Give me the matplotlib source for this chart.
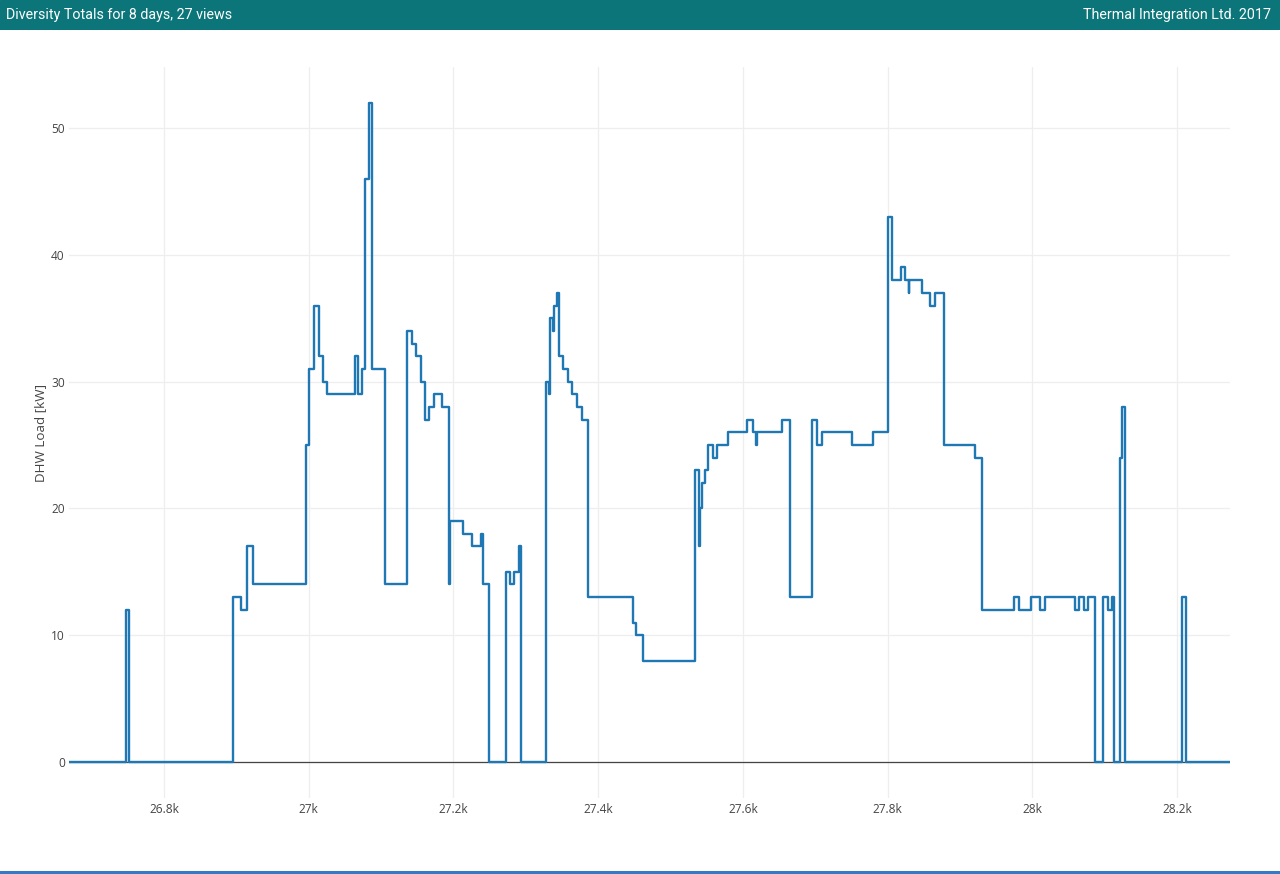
import matplotlib
matplotlib.use("Agg")
import matplotlib.pyplot as plt
from matplotlib.ticker import FuncFormatter, FixedLocator

# ---- data (step breakpoints: x where a new level starts, and that level) ----
step_x = [
    26668.6, 26748, 26752, 26895, 26907, 26914.5, 26923, 26995.5, 27001, 27007.5,
    27013.5, 27019.5, 27025.5, 27064, 27068.5, 27073, 27078, 27083.5, 27087, 27105.5,
    27135.5, 27142, 27148.5, 27155.5, 27160, 27166.5, 27173, 27184, 27194, 27195.5,
    27212.5, 27225.5, 27237.5, 27240.5, 27248.5, 27272, 27278.5, 27284, 27290, 27294,
    27327.5, 27332, 27333, 27338, 27339.5, 27343.5, 27346, 27352, 27358, 27364.5,
    27370.5, 27377, 27385.5, 27448.5, 27452, 27462, 27534, 27539.5, 27541, 27544,
    27547, 27552, 27558.5, 27564.5, 27579, 27606, 27614, 27618.5, 27619.5, 27654.5,
    27665, 27696, 27702, 27709.5, 27750.5, 27780, 27800, 27805.5, 27818.5, 27824.5,
    27829, 27830, 27848, 27858, 27866, 27878.5, 27920.5, 27930, 27975, 27981,
    27998.5, 28011, 28017.5, 28059.5, 28064.5, 28071, 28077, 28086.5, 28098, 28104.5,
    28110, 28113, 28121, 28124.5, 28128.5, 28206.5, 28212.5, 28273.3,
]
load_kw = [
    0, 12, 0, 13, 12, 17, 14, 25, 31, 36,
    32, 30, 29, 32, 29, 31, 46, 52, 31, 14,
    34, 33, 32, 30, 27, 28, 29, 28, 14, 19,
    18, 17, 18, 14, 0, 15, 14, 15, 17, 0,
    30, 29, 35, 34, 36, 37, 32, 31, 30, 29,
    28, 27, 13, 11, 10, 8, 23, 17, 20, 22,
    23, 25, 24, 25, 26, 27, 26, 25, 26, 27,
    13, 27, 25, 26, 25, 26, 43, 38, 39, 38,
    37, 38, 37, 36, 37, 25, 24, 12, 13, 12,
    13, 12, 13, 12, 13, 12, 13, 0, 13, 12,
    13, 0, 24, 28, 0, 13, 0, 0,
]
x_ticks = [26800, 27000, 27200, 27400, 27600, 27800, 28000, 28200]
y_ticks = [0, 10, 20, 30, 40, 50]

title_left = "Diversity Totals for 8 days, 27 views"
title_right = "Thermal Integration Ltd. 2017"
y_label = "DHW Load [kW]"

W, H = 1280, 874
fig = plt.figure(figsize=(W / 100, H / 100), dpi=100)
fig.patch.set_facecolor("white")

# header bar
hdr = fig.add_axes([0, 1 - 30 / H, 1, 30 / H])
hdr.set_axis_off()
hdr.add_patch(plt.Rectangle((0, 0), 1, 1, color="#0b7579", transform=hdr.transAxes))
hdr.text(6 / W, 0.5, title_left, color="white", fontsize=10.3, family="Roboto",
         va="center", ha="left", transform=hdr.transAxes)
hdr.text(1 - 9 / W, 0.5, title_right, color="white", fontsize=10.3, family="Roboto",
         va="center", ha="right", transform=hdr.transAxes)

# bottom line
bot = fig.add_axes([0, 0, 1, 3 / H])
bot.set_axis_off()
bot.add_patch(plt.Rectangle((0, 0), 1, 1, color="#3578c6", transform=bot.transAxes))

left, right, top, bottom = 69, 1230, 67, 798
ax = fig.add_axes([left / W, 1 - bottom / H, (right - left) / W, (bottom - top) / H])
ax.plot(step_x, load_kw, drawstyle="steps-post", color="#1f77b4", lw=1.7, zorder=3)
ax.axhline(0, color="#444444", lw=0.9, zorder=2)

ax.set_xlim(26668.6, 28273.3)
ax.set_ylim(-2.84, 54.81)
ax.xaxis.set_major_locator(FixedLocator(x_ticks))
ax.yaxis.set_major_locator(FixedLocator(y_ticks))


def kfmt(v, pos):
    s = f"{v / 1000:.1f}"
    if s.endswith(".0"):
        s = s[:-2]
    return s + "k"


ax.xaxis.set_major_formatter(FuncFormatter(kfmt))
ax.grid(True, color="#eeeeee", lw=0.9, zorder=0)
for sp in ax.spines.values():
    sp.set_visible(False)
ax.tick_params(axis="both", length=0, labelsize=8.6, labelcolor="#444444")
ax.tick_params(axis="x", pad=3.5)
ax.tick_params(axis="y", pad=3)
for lab in ax.get_xticklabels() + ax.get_yticklabels():
    lab.set_family("Open Sans")
ax.set_ylabel(y_label, fontsize=9.6, color="#444444", family="Open Sans", labelpad=3)

fig.savefig("out.png", dpi=100, facecolor="white")
